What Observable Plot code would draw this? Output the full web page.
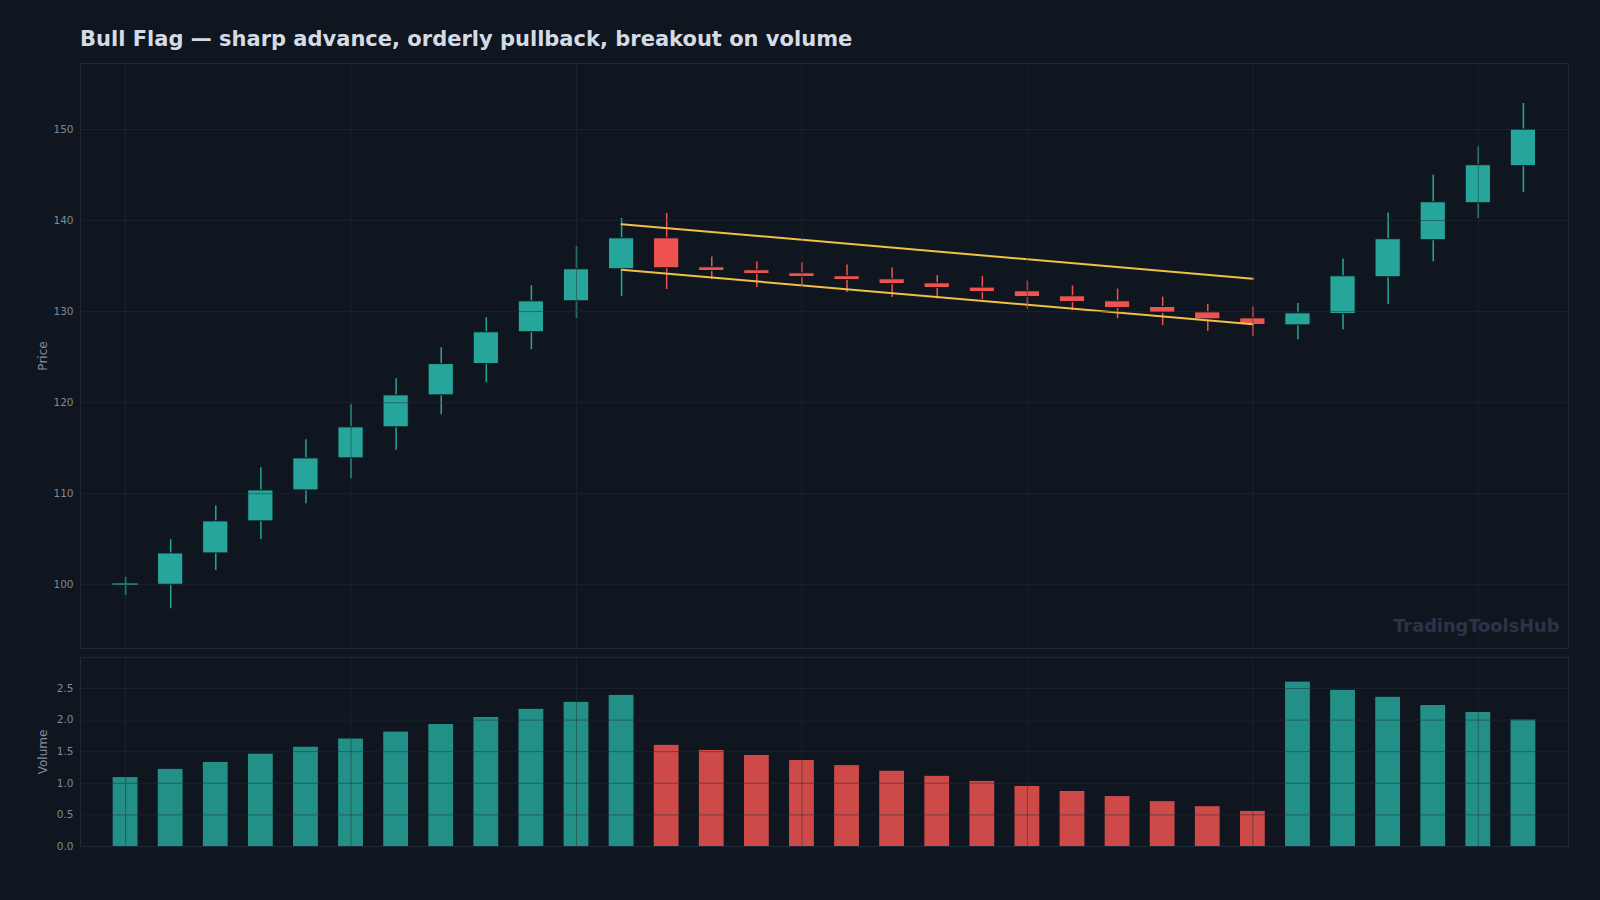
<!DOCTYPE html>
<html>
<head>
<meta charset="utf-8">
<script src="https://cdn.jsdelivr.net/npm/d3@7"></script>
<script src="https://cdn.jsdelivr.net/npm/@observablehq/plot@0.6"></script>
<style>
  html, body { margin: 0; padding: 0; background: #0f1620; }
  #wrap { position: relative; width: 1600px; height: 900px; background: #0f1620; overflow: hidden; font-family: "DejaVu Sans", sans-serif; }
  #title { position: absolute; left: 80px; top: 29px; font-size: 21px; line-height: 1; font-weight: bold; color: #d5dbe5; white-space: nowrap; }
  #price, #volume { position: absolute; left: 0; }
  #price { top: 53px; }
  #volume { top: 647px; }
</style>
</head>
<body>
<div id="wrap">
  <div id="title">Bull Flag — sharp advance, orderly pullback, breakout on volume</div>
  <div id="price"></div>
  <div id="volume"></div>
</div>
<script>
// ---- data ----
const index = d3.range(32);
const opens  = [100.0, 100.0, 103.44, 106.96, 110.36, 113.88, 117.29, 120.80, 124.24, 127.73, 131.13, 134.65,
                138.05, 134.87, 134.54, 134.21, 133.88, 133.55, 133.11, 132.64, 132.23, 131.68, 131.13, 130.51,
                129.92, 129.26, 128.49, 129.73, 133.77, 137.84, 141.90, 145.97];
const highs  = [100.84, 104.95, 108.64, 112.86, 115.93, 119.78, 122.64, 126.04, 129.34, 132.86, 137.14, 140.22,
                140.77, 136.0, 135.45, 135.34, 135.12, 134.79, 133.96, 133.85, 133.36, 132.81, 132.48, 131.6,
                130.77, 130.5, 130.88, 135.78, 140.84, 145.01, 148.09, 152.86];
const lows   = [98.82, 97.36, 101.57, 104.98, 108.9, 111.65, 114.76, 118.68, 122.2, 125.82, 129.23, 131.65,
                132.42, 133.52, 132.64, 132.89, 132.09, 131.54, 131.38, 131.32, 130.25, 130.11, 129.23, 128.46,
                127.84, 127.29, 126.92, 128.02, 130.77, 135.49, 140.22, 143.08];
const closes = [100.02, 103.44, 106.96, 110.36, 113.88, 117.29, 120.80, 124.24, 127.73, 131.13, 134.65, 138.05,
                134.76, 134.46, 134.13, 133.80, 133.47, 133.03, 132.59, 132.15, 131.60, 131.05, 130.40, 129.85,
                129.15, 128.53, 129.81, 133.88, 137.95, 142.01, 146.08, 150.0];
const volumes = [1.09, 1.22, 1.33, 1.46, 1.57, 1.70, 1.81, 1.93, 2.04, 2.17, 2.28, 2.39,
                 1.60, 1.52, 1.44, 1.36, 1.28, 1.19, 1.11, 1.03, 0.95, 0.87, 0.79, 0.71,
                 0.63, 0.555, 2.60, 2.47, 2.36, 2.23, 2.12, 2.00];
const flagX = [11, 25];
const flagUpper = [139.6, 133.6];
const flagLower = [134.6, 128.6];
const priceTicks = [100, 110, 120, 130, 140, 150];
const volumeTicks = [0, 0.5, 1.0, 1.5, 2.0, 2.5];
const xGridTicks = [0, 5, 10, 15, 20, 25, 30];
const watermark = "TradingToolsHub";

// ---- styles ----
const BG = "#0f1620";
const UP = "#26a69a";
const DOWN = "#ef5350";
const GRID = "#23303a";
const FRAME = "#1e2a38";
const TICK = "#7f8898";
const LABEL = "#858e9e";
const FLAG = "#f2c046";

const candles = index.map(i => ({i, o: opens[i], h: highs[i], l: lows[i], c: closes[i], v: volumes[i]}));
const colorOf = d => d.c >= d.o ? UP : DOWN;
const flag = [
  flagX.map((x, k) => ({x, y: flagUpper[k]})),
  flagX.map((x, k) => ({x, y: flagLower[k]}))
];

const half = 0.28, vhalf = 0.275, minBody = 0.15;

const price = Plot.plot({
  width: 1600, height: 600,
  marginLeft: 80, marginRight: 32, marginTop: 10, marginBottom: 5,
  style: {background: "transparent", color: TICK, fontFamily: "DejaVu Sans, sans-serif", fontSize: "10px"},
  x: {domain: [-1, 32], axis: null},
  y: {domain: [93, 157.25], axis: null},
  color: {type: "identity"},
  marks: [
    Plot.ruleX(candles, {x: "i", y1: "l", y2: "h", stroke: colorOf, strokeWidth: 1.5}),
    Plot.rect(candles, {
      x1: d => d.i - half, x2: d => d.i + half,
      y1: d => Math.min(d.o, d.c) - (Math.abs(d.c - d.o) < minBody ? minBody / 2 : 0),
      y2: d => Math.max(d.o, d.c) + (Math.abs(d.c - d.o) < minBody ? minBody / 2 : 0),
      fill: colorOf,
      stroke: d => Math.abs(d.c - d.o) < minBody ? colorOf(d) : BG,
      strokeWidth: d => Math.abs(d.c - d.o) < minBody ? 0 : 1
    }),
    ...flag.map(seg => Plot.line(seg, {x: "x", y: "y", stroke: FLAG, strokeWidth: 2})),
    Plot.gridX(xGridTicks, {stroke: GRID, strokeOpacity: 0.5}),
    Plot.gridY(priceTicks, {stroke: GRID, strokeOpacity: 0.5}),
    Plot.axisY(priceTicks, {tickSize: 0, tickPadding: 7, label: null, fill: TICK, fontSize: 10.5}),
    Plot.text(["Price"], {text: d => d, frameAnchor: "left", rotate: -90, dx: -37, textAnchor: "middle", lineAnchor: "middle", fill: LABEL, fontSize: 12}),
    Plot.text([watermark], {text: d => d, frameAnchor: "bottom-right", textAnchor: "end", lineAnchor: "middle", dx: -9, dy: -22, fill: "#2a3547", fontSize: 17.8, fontWeight: "bold"}),
    Plot.frame({stroke: FRAME})
  ]
});
document.getElementById("price").appendChild(price);

const volume = Plot.plot({
  width: 1600, height: 209,
  marginLeft: 80, marginRight: 32, marginTop: 10, marginBottom: 10,
  style: {background: "transparent", color: TICK, fontFamily: "DejaVu Sans, sans-serif", fontSize: "10px"},
  x: {domain: [-1, 32], axis: null},
  y: {domain: [0, 2.99], axis: null},
  color: {type: "identity"},
  marks: [
    Plot.rectY(candles, {x1: d => d.i - vhalf, x2: d => d.i + vhalf, y: "v", fill: colorOf, fillOpacity: 0.85}),
    Plot.gridX(xGridTicks, {stroke: GRID, strokeOpacity: 0.5}),
    Plot.gridY(volumeTicks, {stroke: GRID, strokeOpacity: 0.5}),
    Plot.axisY(volumeTicks, {tickSize: 0, tickPadding: 7, label: null, tickFormat: d3.format(".1f"), fill: TICK, fontSize: 10.5}),
    Plot.text(["Volume"], {text: d => d, frameAnchor: "left", rotate: -90, dx: -37, textAnchor: "middle", lineAnchor: "middle", fill: LABEL, fontSize: 12}),
    Plot.frame({stroke: FRAME})
  ]
});
document.getElementById("volume").appendChild(volume);
</script>
</body>
</html>
